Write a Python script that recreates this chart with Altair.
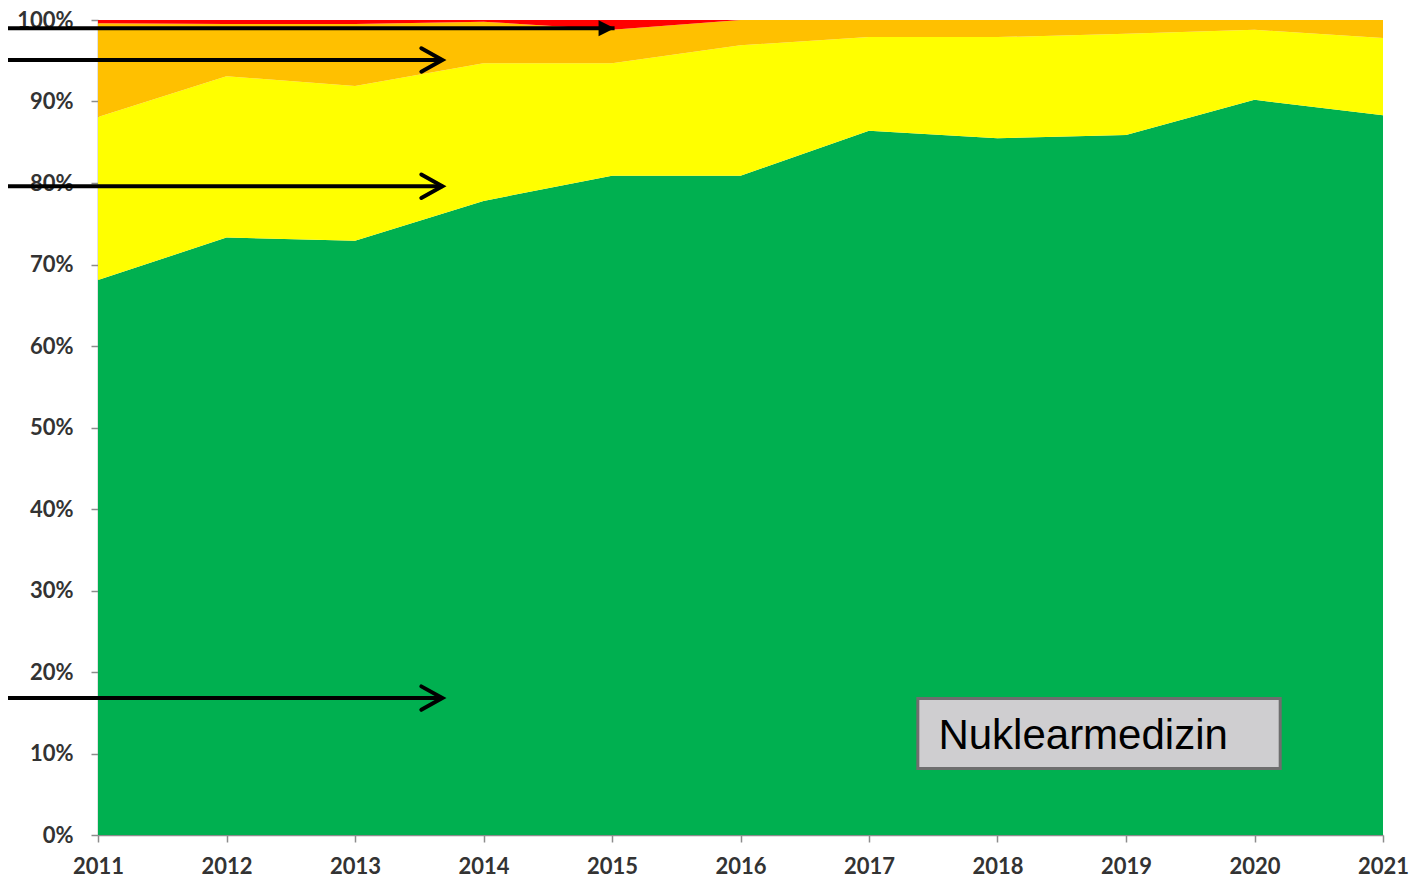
import altair as alt
import pandas as pd

# ---- data (percent shares, stacked to 100 %) ----
years = [2011, 2012, 2013, 2014, 2015, 2016, 2017, 2018, 2019, 2020, 2021]
green = [68.1, 73.3, 72.9, 77.8, 80.9, 80.9, 86.4, 85.5, 85.9, 90.2, 88.3]
yellow = [20.0, 19.8, 19.0, 16.9, 13.8, 16.0, 11.5, 12.4, 12.4, 8.6, 9.5]
orange = [11.5, 6.4, 7.6, 5.1, 4.1, 3.1, 2.1, 2.1, 1.7, 1.2, 2.2]
red = [0.4, 0.5, 0.5, 0.2, 1.2, 0.0, 0.0, 0.0, 0.0, 0.0, 0.0]

series_names = ["grün", "gelb", "orange", "rot"]
series_values = [green, yellow, orange, red]
series_colors = ["#00B050", "#FFFF00", "#FFC000", "#FF0000"]

y_ticks = [0, 10, 20, 30, 40, 50, 60, 70, 80, 90, 100]

# annotation arrows (in data units: year / percent)
arrow_y = [99.0, 95.1, 79.6, 16.8]
arrow_tip = [2015.02, 2013.68, 2013.68, 2013.68]
arrow_kind = ["filled", "open", "open", "open"]
arrow_start = 2010.2

# label box (data units)
box_label = ["Nuklearmedizin"]
box_x = [2017.38]
box_x2 = [2020.20]
box_y = [16.75]
box_y2 = [8.16]
text_x = [2017.54]
text_y = [10.55]

rows = []
for order, (name, vals) in enumerate(zip(series_names, series_values)):
    for yr, v in zip(years, vals):
        rows.append({"Jahr": yr, "Anteil": v, "Serie": name, "ord": order})
df = pd.DataFrame(rows)

arrows = pd.DataFrame({"y": arrow_y, "tip": arrow_tip, "kind": arrow_kind,
                       "start": [arrow_start] * len(arrow_y)})
box = pd.DataFrame({"label": box_label, "x": box_x, "x2": box_x2,
                    "y": box_y, "y2": box_y2, "tx": text_x, "ty": text_y})

xscale = alt.Scale(domain=[2011, 2021], nice=False, zero=False)
yscale = alt.Scale(domain=[0, 100], nice=False)

x_axis = alt.Axis(values=years, format="d", title=None, grid=False,
                  tickSize=7, labelPadding=14, labelFlush=False)
y_axis = alt.Axis(values=y_ticks, labelExpr="datum.value + '%'", title=None,
                  grid=False, tickSize=7, labelPadding=18)

areas = alt.Chart(df).mark_area(interpolate="linear").encode(
    x=alt.X("Jahr:Q", scale=xscale, axis=x_axis),
    y=alt.Y("Anteil:Q", stack="zero", scale=yscale, axis=y_axis),
    color=alt.Color("Serie:N", scale=alt.Scale(domain=series_names, range=series_colors), legend=None),
    order=alt.Order("ord:Q", sort="ascending"),
)

lines = alt.Chart(arrows).mark_rule(color="black", strokeWidth=4).encode(
    x=alt.X("start:Q", scale=xscale),
    x2="tip:Q",
    y=alt.Y("y:Q", scale=yscale),
)

heads_filled = alt.Chart(arrows).transform_filter("datum.kind == 'filled'").mark_point(
    shape="M-2,-1L0,0L-2,1Z", filled=True, color="black", size=256, opacity=1
).encode(x=alt.X("tip:Q", scale=xscale), y=alt.Y("y:Q", scale=yscale))

heads_open = alt.Chart(arrows).transform_filter("datum.kind == 'open'").mark_point(
    shape="M-1.8,-1L0,0L-1.8,1", filled=False, color="black", size=548,
    strokeWidth=4, opacity=1, strokeJoin="miter", strokeCap="round"
).encode(x=alt.X("tip:Q", scale=xscale), y=alt.Y("y:Q", scale=yscale))

box_rect = alt.Chart(box).mark_rect(fill="#CFCED0", stroke="#6E6E6E", strokeWidth=3).encode(
    x=alt.X("x:Q", scale=xscale), x2="x2:Q",
    y=alt.Y("y:Q", scale=yscale), y2="y2:Q",
)

box_text = alt.Chart(box).mark_text(
    align="left", baseline="alphabetic", font="Liberation Sans", fontSize=42, color="black"
).encode(
    x=alt.X("tx:Q", scale=xscale), y=alt.Y("ty:Q", scale=yscale), text="label:N"
)

chart = alt.layer(areas, lines, heads_filled, heads_open, box_rect, box_text).properties(
    width=1285, height=815,
    autosize=alt.AutoSizeParams(type="none"),
    padding={"left": 90, "top": 12, "right": 30, "bottom": 46},
).configure_view(stroke=None).configure_axis(
    labelFont="Lato", labelFontWeight="bold", labelFontSize=22, labelColor="#333333",
    domainColor="#8C8C8C", domainWidth=1.5, tickColor="#8C8C8C", tickWidth=1.5,
)

chart.save("out.html", embed_options={"renderer": "svg", "actions": False})
